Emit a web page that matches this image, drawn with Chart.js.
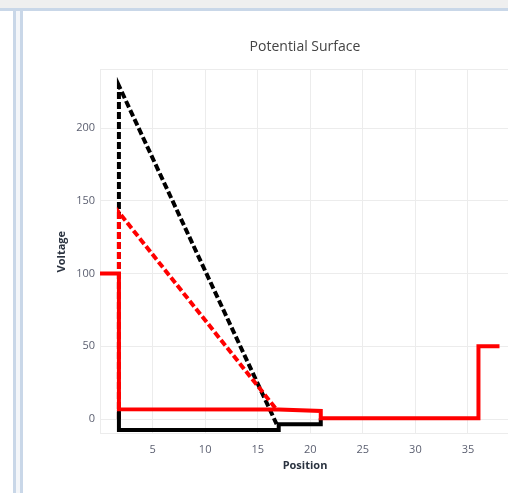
<!DOCTYPE html>
<html>
<head>
<meta charset="utf-8">
<script src="https://cdn.jsdelivr.net/npm/chart.js@4.4.1/dist/chart.umd.min.js"></script>
<style>
  html, body { margin: 0; padding: 0; background: #fff; overflow: hidden; }
  body { width: 508px; height: 493px; position: relative; }
  .topband { position: absolute; left: 0; top: 0; width: 508px; height: 8px; background: #efefef; }
  .hline { position: absolute; left: 0; top: 8px; width: 508px; height: 3px; background: #c9d7e8; }
  .vline1 { position: absolute; left: 13px; top: 8px; width: 3px; height: 485px; background: #c9d7e8; }
  .gap { position: absolute; left: 16px; top: 11px; width: 4px; height: 482px; background: #f4f6f9; }
  .vline2 { position: absolute; left: 20px; top: 8px; width: 3px; height: 485px; background: #c9d7e8; }
  #wrap { position: absolute; left: 23px; top: 12px; width: 497px; height: 481px; }
</style>
</head>
<body>
<div class="topband"></div>
<div class="hline"></div>
<div class="vline1"></div>
<div class="gap"></div>
<div class="vline2"></div>
<div id="wrap"><canvas id="potential-chart"></canvas></div>
<script>
// дані
const redSolidX = [0, 1.8, 1.8, 17, 21, 21, 36, 36, 38];
const redSolidY = [100, 100, 6.8, 6.5, 5.5, 0.5, 0.5, 50, 50];

const blackSolidX = [1.8, 1.8, 17, 17, 21, 21];
const blackSolidY = [6, -7.5, -7.5, -3.5, -3.5, 0.5];

const redDashX = [1.8, 1.8, 16.8];
const redDashY = [0, 142, 6.5];

const blackDashX = [1.8, 1.8, 16.8];
const blackDashY = [0, 229, -3.5];

const xTicks = [5, 10, 15, 20, 25, 30, 35];
const yTicks = [0, 50, 100, 150, 200];

function pts(xs, ys) {
  return xs.map((x, i) => ({ x: x, y: ys[i] }));
}

const tickColor = '#5b5f70';
const gridColor = '#ececec';

const config = {
  type: 'line',
  data: {
    datasets: [
      {
        label: 'red',
        data: pts(redSolidX, redSolidY),
        borderColor: '#ff0000',
        borderWidth: 4
      },
      {
        label: 'black',
        data: pts(blackSolidX, blackSolidY),
        borderColor: '#000000',
        borderWidth: 4
      },
      {
        label: 'red dashed',
        data: pts(redDashX, redDashY),
        borderColor: '#ff0000',
        borderWidth: 4,
        borderDash: [7, 3]
      },
      {
        label: 'black dashed',
        data: pts(blackDashX, blackDashY),
        borderColor: '#000000',
        borderWidth: 4,
        borderDash: [7, 3]
      }
    ]
  },
  options: {
    responsive: true,
    maintainAspectRatio: false,
    animation: false,
    layout: { padding: { top: 0, right: 4, bottom: 19, left: 0 } },
    elements: {
      point: { radius: 0 },
      line: { tension: 0, fill: false, borderJoinStyle: 'miter' }
    },
    plugins: {
      legend: { display: false },
      tooltip: { enabled: false },
      title: {
        display: true,
        text: 'Potential Surface',
        fullSize: false,
        color: '#444',
        font: { family: 'Open Sans', size: 14, weight: 'normal' },
        padding: { top: 27, bottom: 14 }
      }
    },
    scales: {
      x: {
        type: 'linear',
        min: 0,
        max: 39,
        border: { display: false },
        grid: { color: gridColor, drawTicks: false },
        ticks: {
          stepSize: 5,
          padding: 10,
          color: tickColor,
          maxRotation: 0,
          font: { family: 'Open Sans', size: 11 },
          callback: (v) => xTicks.includes(v) ? String(v) : ''
        },
        title: {
          display: true,
          text: 'Position',
          color: '#2b3340',
          font: { family: 'Open Sans', size: 11, weight: 'bold' },
          padding: { top: -8, bottom: 2 }
        }
      },
      y: {
        type: 'linear',
        min: -10,
        max: 240,
        border: { display: false },
        grid: { color: gridColor, drawTicks: false },
        afterBuildTicks: (scale) => {
          scale.ticks = [-10].concat(yTicks, [240]).map(v => ({ value: v }));
        },
        ticks: {
          padding: 5,
          color: tickColor,
          font: { family: 'Open Sans', size: 11 },
          callback: (v) => yTicks.includes(v) ? String(v) : ''
        },
        title: {
          display: true,
          text: 'Voltage',
          color: '#2b3340',
          font: { family: 'Open Sans', size: 11, weight: 'bold' },
          padding: { top: 32, bottom: 0 }
        },
        afterFit: (scale) => { scale.width = 77; }
      }
    }
  }
};

const ctx = document.getElementById('potential-chart').getContext('2d');
const potentialChart = new Chart(ctx, config);
</script>
</body>
</html>
